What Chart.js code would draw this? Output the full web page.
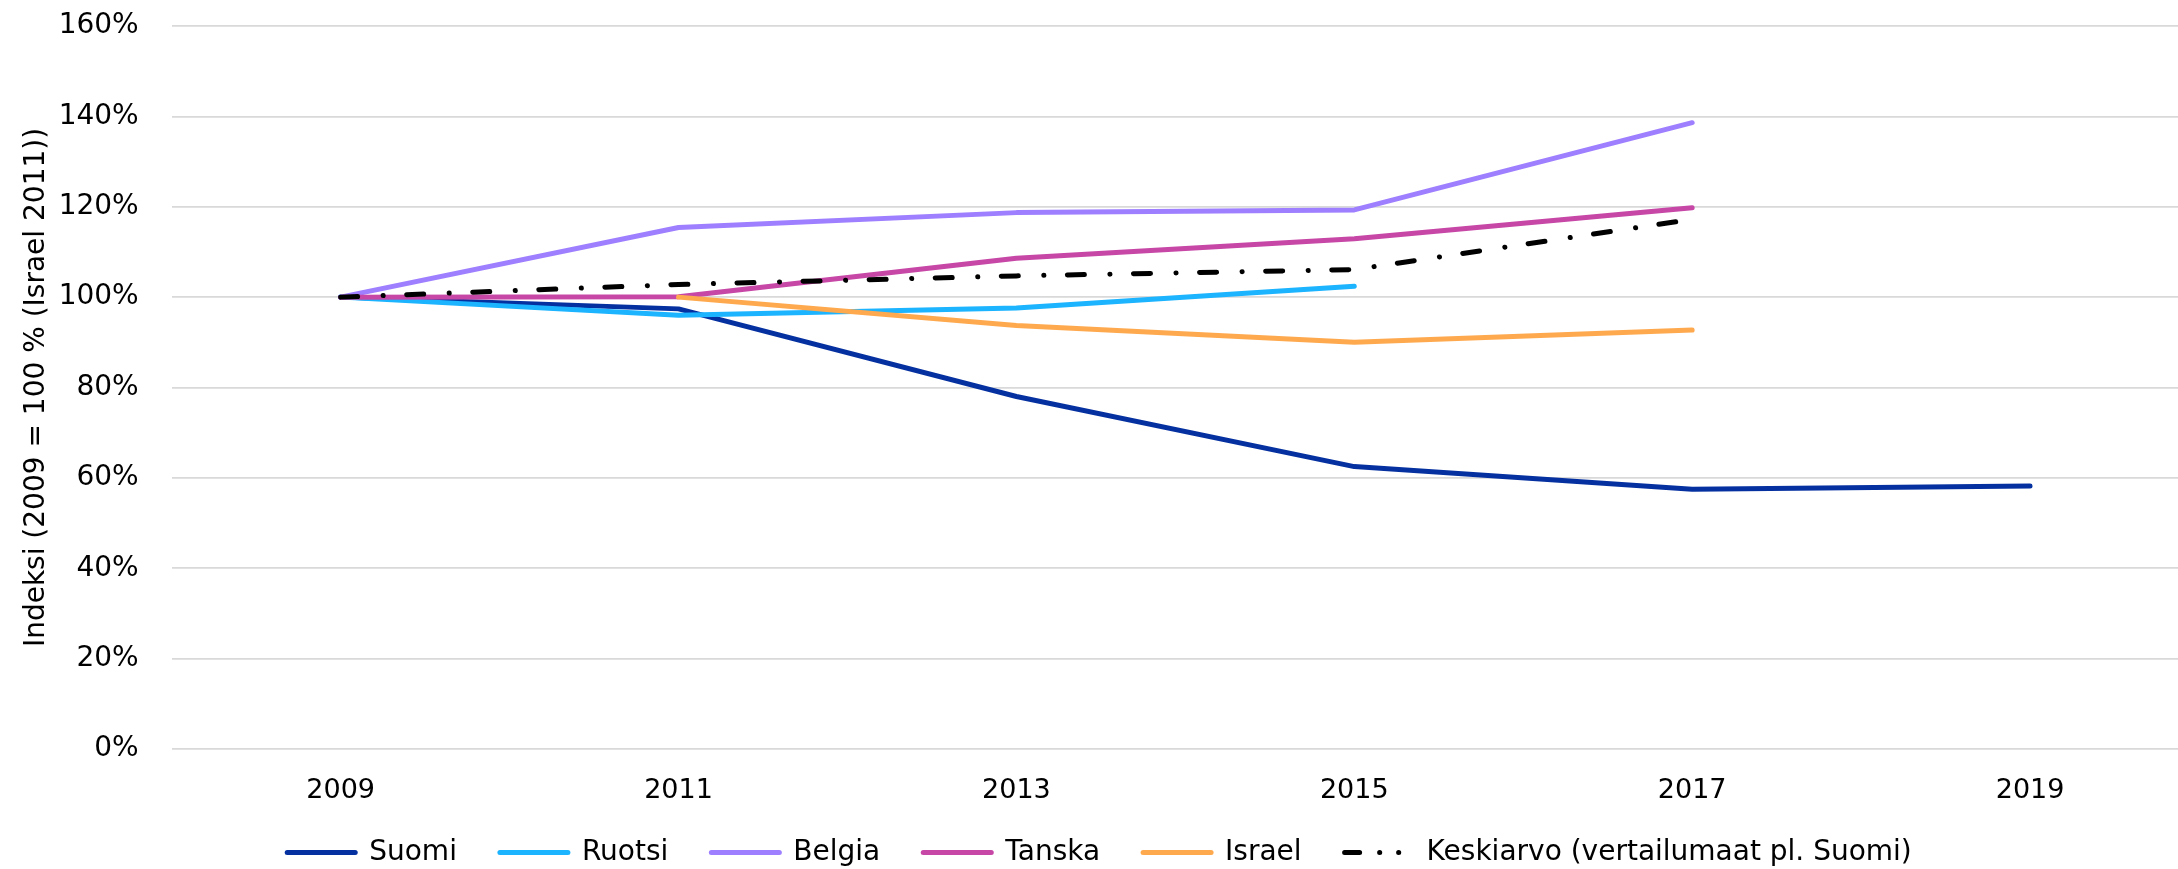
<!DOCTYPE html>
<html lang="fi">
<head>
<meta charset="utf-8">
<title>Indeksi 2009-2019</title>
<script src="https://cdn.jsdelivr.net/npm/chart.js@4/dist/chart.umd.min.js"></script>
<style>
   html, body { margin: 0; padding: 0; background: #fff; overflow: hidden; }
   #wrap { position: relative; width: 2199px; height: 887px; }
</style>
</head>
<body>
<div id="wrap"><canvas id="indexChart"></canvas></div>
<script>
// years on the x axis
const years = ["2009", "2011", "2013", "2015", "2017", "2019"];

// index values in percent (2009 = 100, Israel 2011 = 100)
const suomi = [100, 97.4, 78.0, 62.5, 57.5, 58.2];
const ruotsi = [100, 96.0, 97.6, 102.4, null, null];
const belgia = [100, 115.4, 118.7, 119.3, 138.6, null];
const tanska = [100, 100.1, 108.6, 112.9, 119.8, null];
const israel = [null, 100, 93.7, 90.0, 92.7, null];
const keskiarvo = [100, 102.8, 104.7, 106.1, 117.2, null];

const yTicks = [0, 20, 40, 60, 80, 100, 120, 140, 160];

const FONT = "'DejaVu Sans', Verdana, sans-serif";
const LINE_W = 5;

function lineSet(label, data, color, extra) {
   return Object.assign({
      label,
      data,
      borderColor: color,
      backgroundColor: color,
      borderWidth: LINE_W,
      borderCapStyle: "round",
      borderJoinStyle: "round",
      pointRadius: 0,
      pointHoverRadius: 0,
      tension: 0,
      fill: false,
   }, extra || {});
}

const datasets = [
   lineSet("Suomi", suomi, "#0530a0", { order: 5 }),
   lineSet("Ruotsi", ruotsi, "#1cb3ff", { order: 4 }),
   lineSet("Belgia", belgia, "#9d7fff", { order: 3 }),
   lineSet("Tanska", tanska, "#c647a6", { order: 2 }),
   lineSet("Israel", israel, "#ffa94f", { order: 1 }),
   lineSet("Keskiarvo (vertailumaat pl. Suomi)", keskiarvo, "#000000", {
      order: 0,
      borderDash: [17, 25.5, 0.1, 23.5],
      legendDash: [15, 20, 0.1, 18.9, 0.1, 100],
   }),
];

// legend sits a bit closer to the axis labels than Chart.js puts it
const legendShift = {
   id: "legendShift",
   afterLayout(chart) {
      const lg = chart.legend;
      if (!lg) return;
      lg.top -= 10.5;
      lg.bottom -= 10.5;
   },
};

const ctx = document.getElementById("indexChart").getContext("2d");
new Chart(ctx, {
   type: "line",
   data: { labels: years, datasets },
   plugins: [legendShift],
   options: {
      responsive: true,
      maintainAspectRatio: false,
      animation: false,
      events: [],
      layout: { padding: { top: 26, left: 0, right: 0, bottom: 0 } },
      plugins: {
         tooltip: { enabled: false },
         legend: {
            position: "bottom",
            labels: {
               color: "#000",
               font: { family: FONT, size: 28 },
               usePointStyle: true,
               pointStyle: "line",
               pointStyleWidth: 68,
               padding: 43,
               sort: (a, b) => a.datasetIndex - b.datasetIndex,
               generateLabels: (chart) => {
                  const items = Chart.defaults.plugins.legend.labels.generateLabels(chart);
                  items.forEach(it => {
                     const ds = chart.data.datasets[it.datasetIndex];
                     it.lineDash = ds.legendDash || [];
                     it.lineWidth = ds.borderWidth;
                     it.strokeStyle = ds.borderColor;
                     it.fillStyle = ds.borderColor;
                     it.lineCap = "round";
                  });
                  return items;
               },
            },
         },
      },
      scales: {
         x: {
            offset: true,
            grid: { display: false },
            border: { display: false },
            ticks: {
               color: "#000",
               font: { family: FONT, size: 27, lineHeight: 1.2 },
               padding: 18,
               maxRotation: 0,
            },
            afterFit: (s) => { s.height = 57; },
         },
         y: {
            min: 0,
            max: 160,
            afterBuildTicks: (scale) => { scale.ticks = yTicks.map(v => ({ value: v })); },
            afterFit: (s) => {
               s.width = 171.7;
               s.paddingTop = 17;
               s.paddingBottom = 17;
            },
            grid: { color: "#d9d9d9", lineWidth: 1.75, drawTicks: false },
            border: { display: false },
            ticks: {
               color: "#000",
               font: { family: FONT, size: 28 },
               padding: 33,
               callback: (v) => v + "%",
            },
            title: {
               display: true,
               text: "Indeksi (2009 = 100 % (Israel 2011))",
               color: "#000",
               font: { family: FONT, size: 28, lineHeight: 1.2 },
               padding: { top: 20, bottom: 5 },
            },
         },
      },
   },
});
</script>
</body>
</html>
